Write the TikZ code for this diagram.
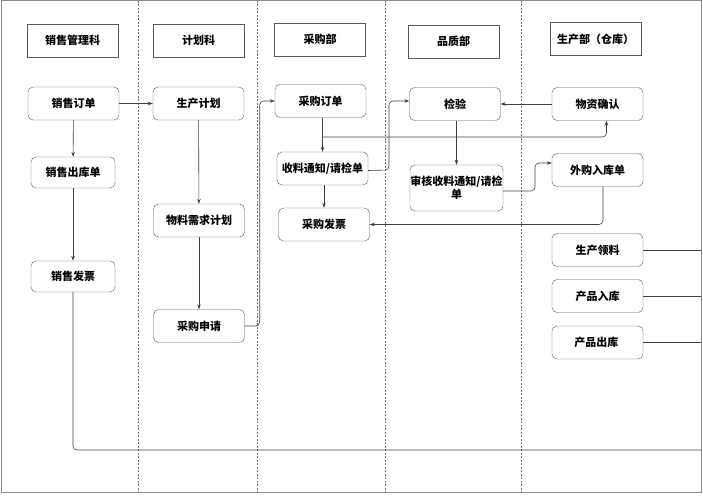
\documentclass[tikz,border=0pt]{standalone}
\usepackage{fontspec}
\newfontfamily\cjk{Noto Sans CJK SC}
\usetikzlibrary{arrows.meta}

\begin{document}
\begin{tikzpicture}[x=1pt, y=-1pt,
    head/.style={draw=black!65, minimum width=91pt, minimum height=33pt,
        font=\cjk\bfseries\fontsize{11}{13}\selectfont},
    task/.style={draw=black!65, rounded corners=5pt, minimum width=91pt,
        minimum height=33pt, inner sep=1pt, align=center,
        font=\cjk\bfseries\fontsize{11}{13}\selectfont},
    flow/.style={draw=black!75, line width=0.6pt, rounded corners=4pt,
        -{Stealth[length=5pt,width=3.5pt]}},
    link/.style={draw=black!75, line width=0.6pt, rounded corners=4pt},
    lane/.style={draw=black!55, dash pattern=on 2pt off 1.5pt, line width=0.5pt},
    frame/.style={draw=black!45, line width=1pt}]
    			\useasboundingbox (0,0) rectangle (703,495);
    			
    			% frame and swim lanes
    			\draw[frame] (1,1) rectangle (701,492);
    			\foreach \x in {138,257,385,521}{
    				\draw[lane] (\x,1) -- (\x,492);
    			}
    			
    			% lane headers
    			\foreach \name/\x/\y/\label in {
    				hSales/72.5/40.5/销售管理科,
    				hPlan/198.5/40.5/计划科,
    				hPurch/320/39.5/采购部,
    				hQual/453.5/41.5/品质部,
    				hProd/595.5/39/生产部（仓库）
    			}{
    				\node[head] (\name) at (\x,\y) {\label};
    			}
    			
    			% tasks
    			\foreach \name/\x/\y/\label in {
    				order/73.5/103.5/销售订单,
    				plan/198.5/103.5/生产计划,
    				po/320.5/101/采购订单,
    				inspect/455/104/检验,
    				confirm/597.5/104/物资确认,
    				stockin/597.5/170/外购入库单,
    				mrp/199/220.5/物料需求计划,
    				pinvoice/324/224.5/采购发票,
    				request/199/326/采购申请,
    				issue/597.5/250/生产领料,
    				finin/597.5/296/产品入库,
    				finout/597.5/342.5/产品出库
    			}{
    				\node[task] (\name) at (\x,\y) {\label};
    			}
    			\node[task, minimum width=84pt, minimum height=31pt] (delivery) at (73,172.5) {销售出库单};
    			\node[task, minimum width=84pt, minimum height=31pt] (sinvoice) at (73,276.5) {销售发票};
    			\node[task] (receipt) at (322.5,168.5) {收料通知/请检单};
    			\node[task, minimum width=93pt, minimum height=46pt, inner sep=0pt] (review) at (456.5,188) {审核收料通知/请检\\单};
    			
    			\coordinate (fork) at (323,137);
    			\coordinate (bottom) at (701,450);
    			
    			% sales lane
    			\draw[flow] (order) -- (plan);
    			\draw[flow] (order) -- (delivery);
    			\draw[flow, line width=0.9pt] (delivery) -- (sinvoice);
    			\draw[link] (sinvoice.south) |- (bottom);
    			
    			% planning lane
    			\draw[flow] (plan) -- (mrp);
    			\draw[flow] (mrp) -- (request);
    			\draw[flow] (request.east) -- ++(15,0) |- (po.west);
    			
    			% purchasing lane
    			\draw[flow] (receipt.north |- po.south) -- (receipt.north);
    			\draw[flow] (fork) -| ([xshift=9pt]confirm.south);
    			\draw[flow] (pinvoice.north |- receipt.south) -- (pinvoice.north);
    			\draw[flow] ([yshift=-2pt]receipt.east) -- (389,170) |- ([yshift=3pt]inspect.west);
    			
    			% quality lane
    			\draw[flow] (confirm) -- (inspect);
    			\draw[flow] (review.north |- inspect.south) -- (review.north);
    			\draw[flow] ([yshift=-3pt]review.east) -- (535,191) |- ([yshift=7pt]stockin.west);
    			
    			% warehouse lane
    			\draw[flow] ([xshift=5.5pt]stockin.south) |- (pinvoice.east);
    			\foreach \name in {issue,finin,finout}{
    				\draw[link] (\name.east) -- (701,0 |- \name.east);
    			}
    		\end{tikzpicture}
\end{document}
